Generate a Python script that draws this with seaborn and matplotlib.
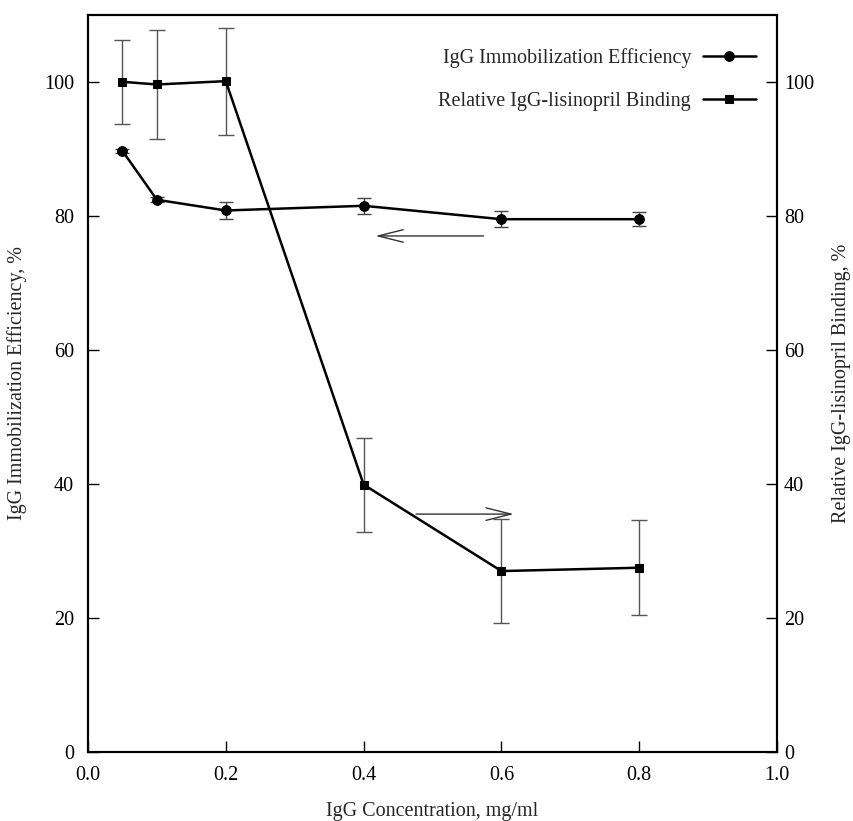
import numpy as np
import pandas as pd
import seaborn as sns
import matplotlib.pyplot as plt

# data
conc = [0.05, 0.1, 0.2, 0.4, 0.6, 0.8]
immob_eff = [89.7, 82.4, 80.8, 81.5, 79.5, 79.5]
immob_err = [0.3, 0.4, 1.2, 1.2, 1.2, 1.0]
binding = [100.0, 99.6, 100.1, 39.9, 27.0, 27.5]
binding_err = [6.3, 8.1, 8.0, 7.0, 7.7, 7.1]

xticks = [0.0, 0.2, 0.4, 0.6, 0.8, 1.0]
yticks = [0, 20, 40, 60, 80, 100]

sns.set_style("ticks")
plt.rcParams['font.family'] = ['Liberation Serif', 'DejaVu Serif']
fs = 14.5

df = pd.DataFrame({'conc': conc, 'eff': immob_eff, 'eff_err': immob_err,
                   'bind': binding, 'bind_err': binding_err})

fig = plt.figure(figsize=(8.54, 8.21), dpi=100)
ax = fig.add_axes([0.103, 0.084, 0.807, 0.898])
ax2 = ax.twinx()

# error bars first so lines sit on top
ax.errorbar(df['conc'], df['eff'], yerr=df['eff_err'], fmt='none',
            ecolor='#444444', elinewidth=1, capsize=5, capthick=1)
ax2.errorbar(df['conc'], df['bind'], yerr=df['bind_err'], fmt='none',
             ecolor='#555555', elinewidth=1, capsize=6, capthick=1)

sns.lineplot(data=df, x='conc', y='eff', ax=ax, color='black', lw=1.8,
             marker='o', markersize=7, markeredgecolor='black',
             label='IgG Immobilization Efficiency', legend=False)
sns.lineplot(data=df, x='conc', y='bind', ax=ax2, color='black', lw=1.8,
             marker='s', markersize=6, markeredgecolor='black',
             label='Relative IgG-lisinopril Binding', legend=False)

ax.set_xlim(0, 1.0)
ax.set_ylim(0, 110)
ax2.set_ylim(0, 110)
ax.set_xticks(xticks)
ax.set_xticklabels([f'{t:.1f}' for t in xticks])
ax.set_yticks(yticks)
ax2.set_yticks(yticks)

for a in (ax, ax2):
    for s in a.spines.values():
        s.set_linewidth(1.5)
        s.set_color('black')
    a.tick_params(direction='in', length=8, width=1, colors='black',
                  labelsize=fs, pad=10)
ax2.tick_params(axis='y', pad=5)

ax.set_xlabel('IgG Concentration, mg/ml', fontsize=fs, labelpad=12)
ax.set_ylabel('IgG Immobilization Efficiency, %', fontsize=fs, labelpad=12)
ax2.set_ylabel('Relative IgG-lisinopril Binding, %', fontsize=fs,
               labelpad=13, rotation=90)

# arrows pointing to each series' axis
ax.annotate('', xy=(0.413, 77.0), xytext=(0.578, 77.0),
            arrowprops=dict(arrowstyle='->,head_length=1.8,head_width=0.45',
                            color='#333333', lw=1))
ax.annotate('', xy=(0.622, 35.5), xytext=(0.472, 35.5),
            arrowprops=dict(arrowstyle='->,head_length=1.8,head_width=0.45',
                            color='#333333', lw=1))

h1, l1 = ax.get_legend_handles_labels()
h2, l2 = ax2.get_legend_handles_labels()
ax2.legend(h1 + h2, l1 + l2, loc='upper right', frameon=False,
           markerfirst=False, handlelength=2.6, fontsize=fs,
           labelspacing=1.2, handletextpad=0.6, bbox_to_anchor=(0.995, 0.98))

fig.savefig('out.png', dpi=100)
